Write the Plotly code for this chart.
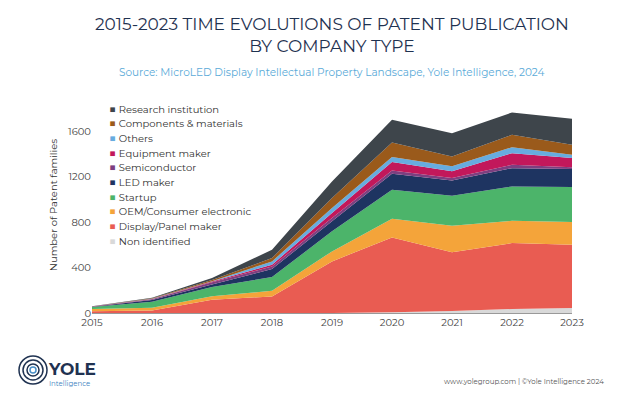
import plotly.graph_objects as go

years = [2015, 2016, 2017, 2018, 2019, 2020, 2021, 2022, 2023]

# per-category patent families (stacked)
non_identified = [0, 0, 0, 0, 0, 6, 18, 35, 44]
display_panel = [15, 23, 117, 146, 454, 659, 516, 580, 557]
oem_consumer = [20, 24, 30, 50, 88, 164, 234, 196, 199]
startup = [18, 53, 82, 120, 176, 255, 264, 302, 308]
led_maker = [2, 15, 21, 71, 88, 141, 134, 161, 159]
semiconductor = [1, 5, 20, 23, 29, 29, 21, 29, 15]
equipment_maker = [1, 4, 6, 15, 44, 74, 59, 103, 81]
others = [0, 2, 4, 29, 44, 44, 44, 53, 29]
components = [1, 3, 10, 29, 88, 128, 87, 108, 88]
research = [2, 6, 18, 73, 146, 200, 205, 197, 228]

series = [
    ("Non identified", non_identified, "#d9d9d9"),
    ("Display/Panel maker", display_panel, "#e95c52"),
    ("OEM/Consumer electronic", oem_consumer, "#f4a43a"),
    ("Startup", startup, "#4cb46a"),
    ("LED maker", led_maker, "#1e3461"),
    ("Semiconductor", semiconductor, "#7d3f80"),
    ("Equipment maker", equipment_maker, "#c2185b"),
    ("Others", others, "#67acdf"),
    ("Components & materials", components, "#9a5a1b"),
    ("Research institution", research, "#3e454b"),
]

fig = go.Figure()
for name, vals, col in series:
    fig.add_trace(go.Scatter(
        x=years, y=vals, name=name, stackgroup="one", mode="none",
        fillcolor=col, line=dict(width=0)))

fig.update_layout(
    width=612, height=392,
    paper_bgcolor="white", plot_bgcolor="white",
    margin=dict(l=84, r=48, t=89, b=87, autoexpand=False),
    font=dict(family="Montserrat, Lato, sans-serif", size=11, color="#333"),
    showlegend=False,
    xaxis=dict(range=[2015, 2023], dtick=1, showgrid=False, showline=True, automargin=False,
               linecolor="#999", ticks="", tickfont=dict(size=10, color="#444")),
    yaxis=dict(range=[0, 1900], tickvals=[0, 400, 800, 1200, 1600], showgrid=False,
               zeroline=False, showline=False, automargin=False,
               tickfont=dict(size=10, color="#444"),
               title=dict(text="Number of Patent families", standoff=8,
                          font=dict(size=10, color="#333"))),
)

# hand-made legend (small squares, top item = top of stack)
for i, (name, vals, col) in enumerate(reversed(series)):
    fig.add_annotation(text=f"<span style='color:{col};font-size:12px'>■</span> {name}",
                       x=0, y=1, xref="paper", yref="paper", xanchor="left", yanchor="middle",
                       showarrow=False, xshift=15, yshift=-(11 + 14.7 * i),
                       font=dict(size=10, color="#333"))

fig.add_annotation(text="2015-2023 TIME EVOLUTIONS OF PATENT PUBLICATION<br>BY COMPANY TYPE",
                   x=0.5, y=1, xref="paper", yref="paper", yanchor="top", showarrow=False,
                   font=dict(size=17, color="#1f3251"), yshift=85)
fig.add_annotation(text="Source: MicroLED Display Intellectual Property Landscape, Yole Intelligence, 2024",
                   x=0.5, y=1, xref="paper", yref="paper", yanchor="top", showarrow=False,
                   font=dict(size=10.5, color="#5aaad8"), yshift=33)

# footer
fig.add_annotation(text="www.yolegroup.com | ©Yole Intelligence 2024", x=1, y=0,
                   xref="paper", yref="paper", xanchor="right", yanchor="top",
                   showarrow=False, font=dict(size=7, color="#555"), yshift=-62, xshift=34)
fig.add_annotation(text="<b>YOLE</b>", x=0, y=0, xref="paper", yref="paper",
                   xanchor="left", yanchor="top", showarrow=False,
                   font=dict(size=17, color="#1f3251"), xshift=-46, yshift=-44)
fig.add_annotation(text="Intelligence", x=0, y=0, xref="paper", yref="paper",
                   xanchor="left", yanchor="top", showarrow=False,
                   font=dict(size=7, color="#3a7fc0"), xshift=-45, yshift=-64)
for r in [14, 10, 6]:
    fig.add_shape(type="circle", xref="paper", yref="paper", xsizemode="pixel", ysizemode="pixel",
                  xanchor=0, yanchor=0, x0=-59 - r, x1=-59 + r, y0=-57 - r, y1=-57 + r,
                  line=dict(color="#1f3251", width=1.5))
fig.add_shape(type="circle", xref="paper", yref="paper", xsizemode="pixel", ysizemode="pixel",
              xanchor=0, yanchor=0, x0=-62, x1=-56, y0=-60, y1=-54,
              line=dict(color="#4a90c8", width=1.5))

fig.write_html("out.html")
